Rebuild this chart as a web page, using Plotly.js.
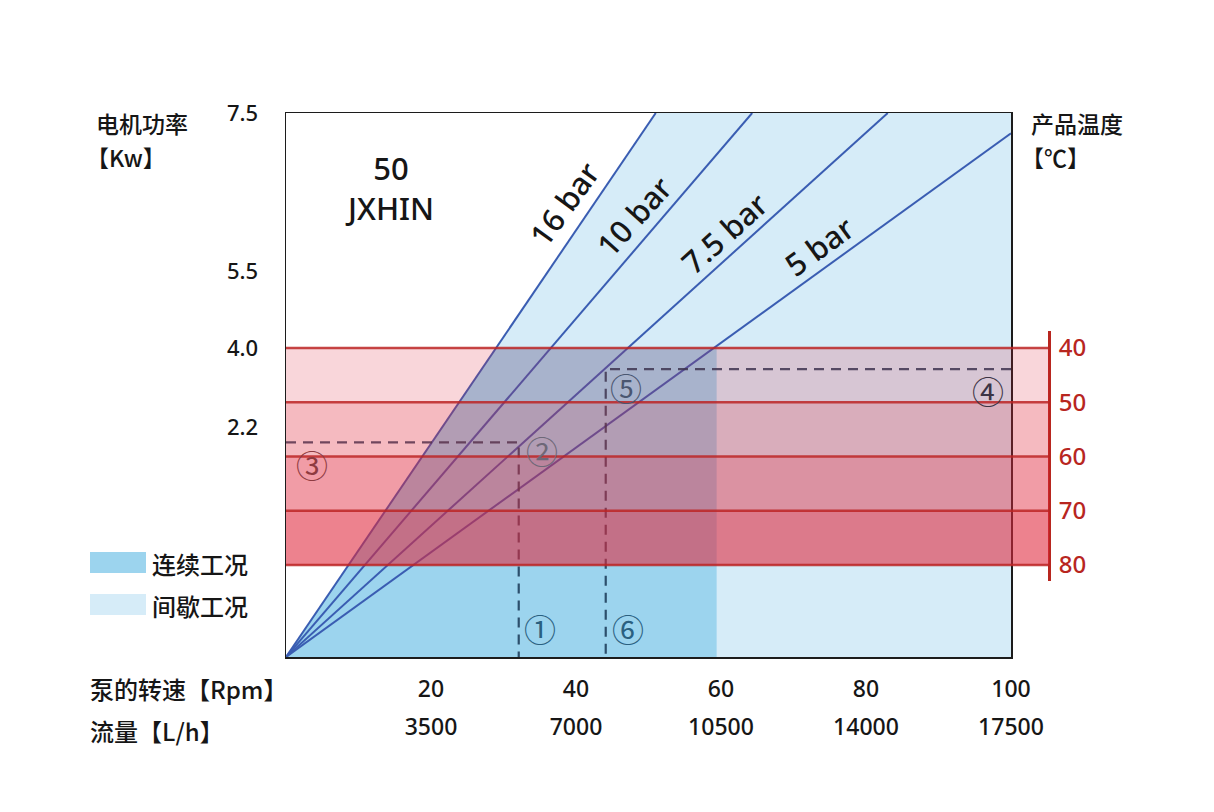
<!DOCTYPE html>
<html><head><meta charset="utf-8">
<script src="https://cdn.plot.ly/plotly-3.0.1.min.js"></script>
<style>html,body{margin:0;padding:0;background:#fff}</style>
</head><body><div id="chart" style="width:1214px;height:812px"></div>
<script>
// ---- data ----
const rpmTicks = [20, 40, 60, 80, 100];
const flowTicks = [3500, 7000, 10500, 14000, 17500];
const kwTickPos = [7.5, 5.32, 4.26, 3.17];
const kwTickText = ['7.5', '5.5', '4.0', '2.2'];
const tempTicks = [40, 50, 60, 70, 80];
const bandAlpha = [0.19, 0.32, 0.46, 0.58];
const pressureLabels = ['16 bar', '10 bar', '7.5 bar', '5 bar'];
const lineEndRpm = [51.0, 64.3, 83.0, 100];
const lineEndKw = [7.5, 7.5, 7.5, 7.22];
const labelRpm = [38.3, 48.0, 60.4, 73.5];
const labelKw = [6.25, 6.08, 5.85, 5.67];
const labelAngle = [-54, -48, -42, -36];
const continuousMaxRpm = 59.4;
const continuousMaxKw = kwTickPos[2];
const dashRpm = [32.1, 44.1];
const dashKw = [2.96, 3.97];
const circleText = ['①', '②', '③', '④', '⑤', '⑥'];
const circleRpm = [35.0, 35.3, 3.6, 96.8, 46.9, 47.2];
const circleKw = [0.40, 2.85, 2.66, 3.68, 3.72, 0.40];
const circleColor = ['#2a6080', '#6e6878', '#8e3a40', '#3c3444', '#4a5670', '#2a6080'];

// ---- geometry ----
const W = 1214, H = 812, L = 286, R = 120, T = 113, B = 155;
const pw = W - L - R, ph = H - T - B;
const px = v => (v - L) / pw;
const py = v => (H - B - v) / ph;

const top16 = lineEndRpm[0];
const xAtCont = top16 * continuousMaxKw / lineEndKw[0];

const CJK = 'Noto Sans CJK SC, Noto Sans, sans-serif';
const NUM = 'Noto Sans, Noto Sans CJK SC, sans-serif';
const INK = '#161616';

const traces = [];
traces.push({x: [0, top16, 100, 100, 0], y: [0, lineEndKw[0], 7.5, 0, 0], mode: 'lines', fill: 'toself',
  fillcolor: '#d6ecf8', line: {width: 0}, hoverinfo: 'skip', showlegend: false});
traces.push({x: [0, xAtCont, continuousMaxRpm, continuousMaxRpm, 0], y: [0, continuousMaxKw, continuousMaxKw, 0, 0],
  mode: 'lines', fill: 'toself', fillcolor: '#9cd4ee', line: {width: 0}, hoverinfo: 'skip', showlegend: false});
pressureLabels.forEach((p, i) => {
  traces.push({x: [0, lineEndRpm[i]], y: [0, lineEndKw[i]], mode: 'lines',
    line: {color: '#3a5db2', width: 2}, hoverinfo: 'skip', showlegend: false});
});
traces.push({x: [0, dashRpm[0], dashRpm[0]], y: [dashKw[0], dashKw[0], 0], mode: 'lines',
  line: {color: 'rgba(25,55,85,0.85)', width: 2.2, dash: '10px,7px'}, hoverinfo: 'skip', showlegend: false});
traces.push({x: [100, dashRpm[1], dashRpm[1]], y: [dashKw[1], dashKw[1], 0], mode: 'lines',
  line: {color: 'rgba(25,55,85,0.85)', width: 2.2, dash: '10px,7px'}, hoverinfo: 'skip', showlegend: false});
traces.push({x: [null], y: [null], xaxis: 'x2', yaxis: 'y', mode: 'markers', showlegend: false, hoverinfo: 'skip'});
traces.push({x: [null], y: [null], xaxis: 'x', yaxis: 'y2', mode: 'markers', showlegend: false, hoverinfo: 'skip'});

const axisRight = (1049 - L) / pw;
const shapes = [];
for (let i = 0; i < tempTicks.length - 1; i++) {
  shapes.push({type: 'rect', layer: 'above', xref: 'paper', yref: 'y2', x0: 0, x1: axisRight,
    y0: tempTicks[i], y1: tempTicks[i + 1], fillcolor: 'rgba(224,39,60,' + bandAlpha[i] + ')', line: {width: 0}});
}
tempTicks.forEach(t => {
  shapes.push({type: 'line', layer: 'above', xref: 'paper', yref: 'y2', x0: 0, x1: axisRight, y0: t, y1: t,
    line: {color: 'rgba(188,36,36,0.85)', width: 2.5}});
});
shapes.push({type: 'rect', xref: 'paper', yref: 'paper', x0: px(90), x1: px(146), y0: py(573), y1: py(552),
  fillcolor: '#9cd4ee', line: {width: 0}});
shapes.push({type: 'rect', xref: 'paper', yref: 'paper', x0: px(90), x1: px(146), y0: py(615), y1: py(594),
  fillcolor: '#d6ecf8', line: {width: 0}});

const ann = [];
const txt = (x, y, text, opt) => Object.assign({x, y, text, showarrow: false, xref: 'paper', yref: 'paper',
  font: {family: CJK, size: 24, color: INK, weight: 500}, xanchor: 'left', yanchor: 'middle'}, opt || {});
const titleFont = {family: CJK, size: 23, color: INK, weight: 500};
ann.push(txt(px(94), py(123), '电机功率', {font: titleFont}));
ann.push(txt(px(84), py(157), '【Kw】', {font: titleFont}));
ann.push(txt(px(1029), py(123), '产品温度', {font: titleFont}));
ann.push(txt(px(1019), py(157), '【℃】', {font: titleFont}));
ann.push(txt(px(88), py(688), '泵的转速【Rpm】'));
ann.push(txt(px(88), py(730), '流量【L/h】'));
ann.push(txt(px(150), py(563), '连续工况'));
ann.push(txt(px(150), py(605), '间歇工况'));
ann.push({x: 14.3, y: 6.47, xref: 'x', yref: 'y', text: '50<br>JXHIN', showarrow: false,
  font: {family: NUM, size: 31, color: INK, weight: 500}});
pressureLabels.forEach((p, i) => {
  ann.push({x: labelRpm[i], y: labelKw[i], xref: 'x', yref: 'y', text: p, showarrow: false,
    textangle: labelAngle[i], font: {family: NUM, size: 31, color: INK, weight: 500}});
});
circleText.forEach((c, i) => {
  ann.push({x: circleRpm[i], y: circleKw[i], xref: 'x', yref: 'y', text: c, showarrow: false,
    font: {family: CJK, size: 32, color: circleColor[i]}});
});

const tickFont = s => ({family: NUM, size: s, color: INK, weight: 500});
const layout = {
  width: W, height: H, margin: {l: L, r: R, t: T, b: B},
  paper_bgcolor: '#fff', plot_bgcolor: 'rgba(0,0,0,0)', showlegend: false,
  xaxis: {domain: [0, 725 / pw], range: [0, 100], showgrid: false, zeroline: false,
    showline: true, mirror: true, linecolor: '#1c1c1c', linewidth: 1.5,
    tickvals: rpmTicks, ticktext: rpmTicks.map(String), ticks: '', ticklabelstandoff: 11,
    tickfont: tickFont(23)},
  xaxis2: {overlaying: 'x', anchor: 'y', side: 'bottom', range: [0, 17500], showgrid: false, zeroline: false,
    showline: false, tickvals: flowTicks, ticktext: flowTicks.map(String), ticks: '', ticklabelstandoff: 54,
    tickfont: tickFont(23)},
  yaxis: {range: [0, 7.5], showgrid: false, zeroline: false, showline: true, mirror: true,
    linecolor: '#1c1c1c', linewidth: 1.5, tickvals: kwTickPos, ticktext: kwTickText, ticks: '',
    ticklabelstandoff: 22, tickfont: tickFont(22)},
  yaxis2: {domain: [py(581), py(331)], range: [82.95, 36.87], anchor: 'free', position: axisRight, side: 'right',
    showgrid: false, zeroline: false, showline: true, linecolor: '#b8261f', linewidth: 3,
    tickvals: tempTicks, ticktext: tempTicks.map(String), ticks: '', ticklabelstandoff: 3,
    tickfont: {family: NUM, size: 24, color: '#b8261f', weight: 500}},
  shapes: shapes, annotations: ann
};
Plotly.newPlot('chart', traces, layout, {staticPlot: true, displayModeBar: false});
</script></body></html>
